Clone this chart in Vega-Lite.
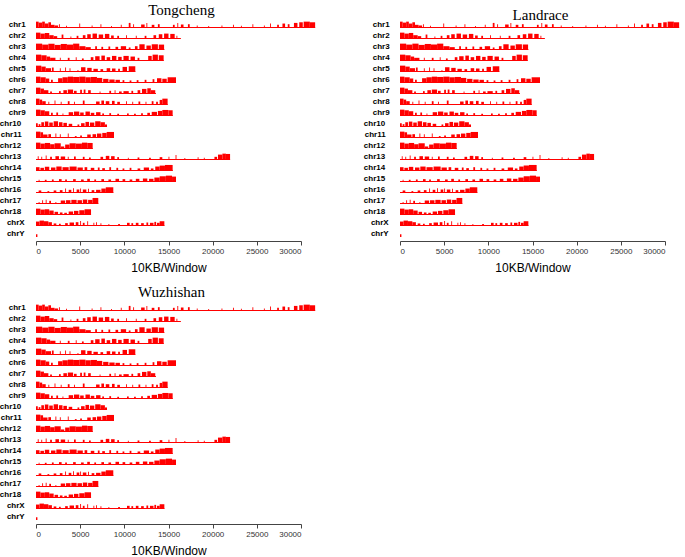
{
"$schema": "https://vega.github.io/schema/vega-lite/v6.json",
"background": "white",
"padding": {"left": -1, "top": 2, "right": 2, "bottom": 2},
"config": {"view": {"stroke": null}, "font": "Liberation Sans"},
"datasets": {"d": [
{"c":"chr1","s":0,"e":31600,"h":0.15},
{"c":"chr1","s":0,"e":300,"h":1},{"c":"chr1","s":300,"e":700,"h":0.85},{"c":"chr1","s":700,"e":1000,"h":1},{"c":"chr1","s":1000,"e":1400,"h":0.7},{"c":"chr1","s":1400,"e":1700,"h":0.9},{"c":"chr1","s":1700,"e":2100,"h":0.5},{"c":"chr1","s":2100,"e":2500,"h":0.4},{"c":"chr1","s":2600,"e":2700,"h":0.6},{"c":"chr1","s":3400,"e":3500,"h":0.35},{"c":"chr1","s":4900,"e":5000,"h":0.7},{"c":"chr1","s":6300,"e":6400,"h":0.4},{"c":"chr1","s":7300,"e":7400,"h":0.6},{"c":"chr1","s":8500,"e":8600,"h":0.3},{"c":"chr1","s":9600,"e":9700,"h":0.5},{"c":"chr1","s":10500,"e":10700,"h":0.8},{"c":"chr1","s":11000,"e":11100,"h":0.6},{"c":"chr1","s":11900,"e":12300,"h":0.55},{"c":"chr1","s":12500,"e":12600,"h":0.8},{"c":"chr1","s":13100,"e":13400,"h":0.5},{"c":"chr1","s":13800,"e":14000,"h":0.6},{"c":"chr1","s":15500,"e":15700,"h":0.5},{"c":"chr1","s":16000,"e":16100,"h":0.8},{"c":"chr1","s":16400,"e":16700,"h":0.55},{"c":"chr1","s":17200,"e":17400,"h":0.6},{"c":"chr1","s":18200,"e":18300,"h":0.4},{"c":"chr1","s":19500,"e":19600,"h":0.3},{"c":"chr1","s":21000,"e":21100,"h":0.4},{"c":"chr1","s":22300,"e":22400,"h":0.5},{"c":"chr1","s":23200,"e":23300,"h":0.35},{"c":"chr1","s":24500,"e":24600,"h":0.6},{"c":"chr1","s":25800,"e":25900,"h":0.4},{"c":"chr1","s":26500,"e":26600,"h":0.7},{"c":"chr1","s":27300,"e":27500,"h":0.5},{"c":"chr1","s":27900,"e":28200,"h":0.7},{"c":"chr1","s":28500,"e":28700,"h":0.6},{"c":"chr1","s":29200,"e":29600,"h":0.8},{"c":"chr1","s":29800,"e":30200,"h":0.9},{"c":"chr1","s":30300,"e":31000,"h":1},{"c":"chr1","s":31000,"e":31600,"h":0.9},
{"c":"chr2","s":0,"e":16400,"h":0.15},
{"c":"chr2","s":0,"e":500,"h":1},{"c":"chr2","s":500,"e":1000,"h":0.85},{"c":"chr2","s":1000,"e":1500,"h":0.95},{"c":"chr2","s":1500,"e":2000,"h":0.6},{"c":"chr2","s":2000,"e":2400,"h":0.45},{"c":"chr2","s":2900,"e":3100,"h":0.7},{"c":"chr2","s":3900,"e":4000,"h":0.4},{"c":"chr2","s":4600,"e":4800,"h":0.5},{"c":"chr2","s":5300,"e":5600,"h":0.6},{"c":"chr2","s":5800,"e":6200,"h":0.75},{"c":"chr2","s":6400,"e":6900,"h":0.85},{"c":"chr2","s":7100,"e":7600,"h":0.7},{"c":"chr2","s":7800,"e":8300,"h":0.8},{"c":"chr2","s":8500,"e":8800,"h":0.55},{"c":"chr2","s":9200,"e":9400,"h":0.5},{"c":"chr2","s":10200,"e":10300,"h":0.6},{"c":"chr2","s":11300,"e":11400,"h":0.5},{"c":"chr2","s":12300,"e":12500,"h":0.5},{"c":"chr2","s":13300,"e":13600,"h":0.6},{"c":"chr2","s":13900,"e":14300,"h":0.75},{"c":"chr2","s":14500,"e":15000,"h":0.85},{"c":"chr2","s":15200,"e":15700,"h":0.8},{"c":"chr2","s":15900,"e":16000,"h":0.5},
{"c":"chr3","s":0,"e":14530,"h":0.15},
{"c":"chr3","s":0,"e":700,"h":1},{"c":"chr3","s":700,"e":1400,"h":0.85},{"c":"chr3","s":1400,"e":2100,"h":1},{"c":"chr3","s":2100,"e":2800,"h":0.8},{"c":"chr3","s":2800,"e":3500,"h":0.95},{"c":"chr3","s":3500,"e":4200,"h":0.85},{"c":"chr3","s":4200,"e":4900,"h":1},{"c":"chr3","s":4900,"e":5600,"h":0.6},{"c":"chr3","s":5600,"e":6200,"h":0.45},{"c":"chr3","s":6700,"e":6900,"h":0.6},{"c":"chr3","s":7400,"e":7600,"h":0.5},{"c":"chr3","s":8200,"e":8400,"h":0.55},{"c":"chr3","s":9000,"e":9300,"h":0.5},{"c":"chr3","s":9600,"e":10200,"h":0.6},{"c":"chr3","s":10500,"e":10700,"h":0.4},{"c":"chr3","s":11200,"e":11500,"h":0.6},{"c":"chr3","s":11700,"e":12300,"h":0.9},{"c":"chr3","s":12500,"e":13000,"h":0.7},{"c":"chr3","s":13100,"e":13800,"h":0.9},{"c":"chr3","s":13900,"e":14500,"h":0.85},
{"c":"chr4","s":0,"e":14450,"h":0.15},
{"c":"chr4","s":0,"e":600,"h":1},{"c":"chr4","s":600,"e":1200,"h":0.9},{"c":"chr4","s":1200,"e":1600,"h":0.7},{"c":"chr4","s":1600,"e":2200,"h":0.5},{"c":"chr4","s":2700,"e":2800,"h":0.5},{"c":"chr4","s":3600,"e":3800,"h":0.5},{"c":"chr4","s":4500,"e":4600,"h":0.6},{"c":"chr4","s":5200,"e":5400,"h":0.4},{"c":"chr4","s":6200,"e":6500,"h":0.6},{"c":"chr4","s":6700,"e":7200,"h":0.75},{"c":"chr4","s":7400,"e":7800,"h":0.85},{"c":"chr4","s":8000,"e":8400,"h":0.6},{"c":"chr4","s":8600,"e":9100,"h":0.8},{"c":"chr4","s":9300,"e":9700,"h":0.65},{"c":"chr4","s":9900,"e":10500,"h":0.8},{"c":"chr4","s":10700,"e":11200,"h":0.7},{"c":"chr4","s":11500,"e":11700,"h":0.5},{"c":"chr4","s":12700,"e":13100,"h":0.8},{"c":"chr4","s":13200,"e":13800,"h":1},{"c":"chr4","s":13900,"e":14450,"h":0.9},
{"c":"chr5","s":0,"e":11240,"h":0.15},
{"c":"chr5","s":0,"e":600,"h":1},{"c":"chr5","s":600,"e":1100,"h":0.85},{"c":"chr5","s":1100,"e":1700,"h":0.6},{"c":"chr5","s":1800,"e":2000,"h":0.7},{"c":"chr5","s":2700,"e":2800,"h":0.6},{"c":"chr5","s":3300,"e":3400,"h":0.7},{"c":"chr5","s":3800,"e":3900,"h":0.6},{"c":"chr5","s":4700,"e":4800,"h":0.3},{"c":"chr5","s":5100,"e":5600,"h":0.75},{"c":"chr5","s":5800,"e":6300,"h":0.65},{"c":"chr5","s":6500,"e":7000,"h":0.5},{"c":"chr5","s":7300,"e":7600,"h":0.45},{"c":"chr5","s":8000,"e":8400,"h":0.6},{"c":"chr5","s":8600,"e":9000,"h":0.55},{"c":"chr5","s":9300,"e":9500,"h":0.5},{"c":"chr5","s":9800,"e":10300,"h":0.8},{"c":"chr5","s":10500,"e":11240,"h":0.9},
{"c":"chr6","s":0,"e":15850,"h":0.15},
{"c":"chr6","s":0,"e":500,"h":1},{"c":"chr6","s":500,"e":1100,"h":0.9},{"c":"chr6","s":1100,"e":1500,"h":0.7},{"c":"chr6","s":1700,"e":1900,"h":0.5},{"c":"chr6","s":2500,"e":3000,"h":0.75},{"c":"chr6","s":3000,"e":3600,"h":0.9},{"c":"chr6","s":3600,"e":4200,"h":1},{"c":"chr6","s":4200,"e":4900,"h":0.95},{"c":"chr6","s":4900,"e":5600,"h":1},{"c":"chr6","s":5600,"e":6200,"h":0.9},{"c":"chr6","s":6200,"e":6900,"h":0.95},{"c":"chr6","s":6900,"e":7500,"h":0.8},{"c":"chr6","s":7600,"e":8200,"h":0.65},{"c":"chr6","s":8300,"e":8900,"h":0.55},{"c":"chr6","s":9000,"e":9500,"h":0.5},{"c":"chr6","s":9800,"e":10000,"h":0.45},{"c":"chr6","s":10600,"e":10800,"h":0.4},{"c":"chr6","s":11400,"e":11600,"h":0.45},{"c":"chr6","s":12300,"e":12500,"h":0.5},{"c":"chr6","s":13200,"e":13400,"h":0.6},{"c":"chr6","s":13700,"e":14200,"h":0.75},{"c":"chr6","s":14300,"e":14800,"h":0.65},{"c":"chr6","s":14900,"e":15850,"h":0.9},
{"c":"chr7","s":0,"e":13580,"h":0.15},
{"c":"chr7","s":0,"e":500,"h":1},{"c":"chr7","s":500,"e":900,"h":0.85},{"c":"chr7","s":900,"e":1400,"h":0.6},{"c":"chr7","s":1600,"e":1800,"h":0.4},{"c":"chr7","s":2600,"e":2800,"h":0.45},{"c":"chr7","s":3100,"e":3500,"h":0.6},{"c":"chr7","s":3600,"e":4200,"h":0.7},{"c":"chr7","s":4300,"e":4600,"h":0.5},{"c":"chr7","s":5000,"e":5200,"h":0.65},{"c":"chr7","s":5400,"e":5600,"h":0.7},{"c":"chr7","s":5900,"e":6200,"h":0.6},{"c":"chr7","s":7200,"e":7300,"h":0.4},{"c":"chr7","s":8300,"e":8500,"h":0.5},{"c":"chr7","s":8900,"e":9000,"h":0.6},{"c":"chr7","s":9400,"e":9700,"h":0.4},{"c":"chr7","s":9900,"e":10500,"h":0.45},{"c":"chr7","s":10800,"e":11000,"h":0.5},{"c":"chr7","s":11500,"e":11800,"h":0.6},{"c":"chr7","s":12000,"e":12500,"h":0.8},{"c":"chr7","s":12600,"e":13000,"h":0.9},{"c":"chr7","s":13000,"e":13500,"h":0.6},
{"c":"chr8","s":0,"e":14900,"h":0.15},
{"c":"chr8","s":0,"e":400,"h":1},{"c":"chr8","s":400,"e":700,"h":0.85},{"c":"chr8","s":700,"e":1100,"h":0.6},{"c":"chr8","s":1400,"e":1500,"h":0.5},{"c":"chr8","s":2100,"e":2200,"h":0.7},{"c":"chr8","s":2800,"e":2900,"h":0.5},{"c":"chr8","s":3600,"e":3800,"h":0.6},{"c":"chr8","s":4300,"e":4400,"h":0.5},{"c":"chr8","s":5300,"e":5500,"h":0.7},{"c":"chr8","s":6800,"e":7200,"h":0.55},{"c":"chr8","s":7400,"e":7700,"h":0.7},{"c":"chr8","s":7900,"e":8300,"h":0.6},{"c":"chr8","s":8600,"e":8900,"h":0.65},{"c":"chr8","s":9200,"e":9500,"h":0.5},{"c":"chr8","s":10200,"e":10300,"h":0.6},{"c":"chr8","s":10900,"e":11000,"h":0.5},{"c":"chr8","s":11600,"e":11800,"h":0.55},{"c":"chr8","s":12400,"e":12500,"h":0.5},{"c":"chr8","s":13100,"e":13300,"h":0.6},{"c":"chr8","s":13600,"e":13800,"h":0.5},{"c":"chr8","s":14000,"e":14300,"h":0.8},{"c":"chr8","s":14300,"e":14900,"h":1},
{"c":"chr9","s":0,"e":15470,"h":0.15},
{"c":"chr9","s":0,"e":500,"h":1},{"c":"chr9","s":500,"e":1000,"h":0.9},{"c":"chr9","s":1000,"e":1500,"h":0.75},{"c":"chr9","s":1700,"e":1900,"h":0.5},{"c":"chr9","s":2300,"e":2500,"h":0.55},{"c":"chr9","s":3000,"e":3100,"h":0.4},{"c":"chr9","s":3700,"e":4200,"h":0.6},{"c":"chr9","s":4300,"e":4900,"h":0.7},{"c":"chr9","s":5000,"e":5400,"h":0.55},{"c":"chr9","s":5600,"e":6100,"h":0.7},{"c":"chr9","s":6200,"e":6600,"h":0.5},{"c":"chr9","s":6800,"e":7300,"h":0.6},{"c":"chr9","s":7500,"e":7700,"h":0.4},{"c":"chr9","s":8300,"e":8500,"h":0.45},{"c":"chr9","s":9200,"e":9400,"h":0.35},{"c":"chr9","s":10300,"e":10500,"h":0.4},{"c":"chr9","s":11100,"e":11300,"h":0.35},{"c":"chr9","s":11900,"e":12100,"h":0.45},{"c":"chr9","s":12600,"e":12900,"h":0.5},{"c":"chr9","s":13100,"e":13700,"h":0.65},{"c":"chr9","s":13800,"e":14300,"h":0.8},{"c":"chr9","s":14300,"e":15000,"h":0.95},{"c":"chr9","s":15000,"e":15470,"h":0.9},
{"c":"chr10","s":0,"e":8040,"h":0.15},
{"c":"chr10","s":0,"e":200,"h":0.6},{"c":"chr10","s":300,"e":500,"h":0.45},{"c":"chr10","s":600,"e":900,"h":0.75},{"c":"chr10","s":1000,"e":1400,"h":0.85},{"c":"chr10","s":1500,"e":1900,"h":0.7},{"c":"chr10","s":2000,"e":2500,"h":0.9},{"c":"chr10","s":2600,"e":3000,"h":0.75},{"c":"chr10","s":3100,"e":3500,"h":0.65},{"c":"chr10","s":3700,"e":4100,"h":0.5},{"c":"chr10","s":4700,"e":4900,"h":0.4},{"c":"chr10","s":5100,"e":5500,"h":0.6},{"c":"chr10","s":5600,"e":6000,"h":0.8},{"c":"chr10","s":6100,"e":6600,"h":0.7},{"c":"chr10","s":6700,"e":7300,"h":0.9},{"c":"chr10","s":7300,"e":7800,"h":0.75},{"c":"chr10","s":7800,"e":8040,"h":0.4},
{"c":"chr11","s":0,"e":8830,"h":0.15},
{"c":"chr11","s":0,"e":500,"h":1},{"c":"chr11","s":500,"e":800,"h":0.9},{"c":"chr11","s":800,"e":1300,"h":0.55},{"c":"chr11","s":1400,"e":1700,"h":0.6},{"c":"chr11","s":2200,"e":2300,"h":0.7},{"c":"chr11","s":2700,"e":2800,"h":0.6},{"c":"chr11","s":3600,"e":3700,"h":0.7},{"c":"chr11","s":4400,"e":4600,"h":0.3},{"c":"chr11","s":5000,"e":5200,"h":0.4},{"c":"chr11","s":5800,"e":6200,"h":0.55},{"c":"chr11","s":6400,"e":6800,"h":0.6},{"c":"chr11","s":6900,"e":7400,"h":0.7},{"c":"chr11","s":7500,"e":8000,"h":0.8},{"c":"chr11","s":8000,"e":8830,"h":0.95},
{"c":"chr12","s":0,"e":6415,"h":0.15},
{"c":"chr12","s":0,"e":500,"h":1},{"c":"chr12","s":500,"e":1000,"h":0.85},{"c":"chr12","s":1000,"e":1600,"h":0.95},{"c":"chr12","s":1600,"e":2100,"h":0.75},{"c":"chr12","s":2100,"e":2800,"h":0.9},{"c":"chr12","s":2800,"e":3200,"h":0.4},{"c":"chr12","s":3300,"e":3800,"h":0.7},{"c":"chr12","s":3800,"e":4500,"h":0.9},{"c":"chr12","s":4500,"e":5200,"h":0.85},{"c":"chr12","s":5200,"e":5800,"h":1},{"c":"chr12","s":5800,"e":6415,"h":0.95},
{"c":"chr13","s":0,"e":21970,"h":0.15},
{"c":"chr13","s":200,"e":300,"h":0.6},{"c":"chr13","s":600,"e":700,"h":0.5},{"c":"chr13","s":1100,"e":1200,"h":0.7},{"c":"chr13","s":1600,"e":1800,"h":0.5},{"c":"chr13","s":2200,"e":2600,"h":0.6},{"c":"chr13","s":2800,"e":3300,"h":0.55},{"c":"chr13","s":3600,"e":3700,"h":0.5},{"c":"chr13","s":4300,"e":4500,"h":0.55},{"c":"chr13","s":5300,"e":5500,"h":0.5},{"c":"chr13","s":6000,"e":6200,"h":0.4},{"c":"chr13","s":7300,"e":7600,"h":0.5},{"c":"chr13","s":7900,"e":8300,"h":0.65},{"c":"chr13","s":8500,"e":8900,"h":0.6},{"c":"chr13","s":9200,"e":9400,"h":0.45},{"c":"chr13","s":10400,"e":10500,"h":0.35},{"c":"chr13","s":11500,"e":11700,"h":0.4},{"c":"chr13","s":12800,"e":13000,"h":0.35},{"c":"chr13","s":14000,"e":14300,"h":0.45},{"c":"chr13","s":15000,"e":15100,"h":0.5},{"c":"chr13","s":15800,"e":15900,"h":0.8},{"c":"chr13","s":16800,"e":16900,"h":0.3},{"c":"chr13","s":18300,"e":18400,"h":0.45},{"c":"chr13","s":19000,"e":19100,"h":0.35},{"c":"chr13","s":20200,"e":20500,"h":0.5},{"c":"chr13","s":20600,"e":21100,"h":0.85},{"c":"chr13","s":21100,"e":21500,"h":1},{"c":"chr13","s":21500,"e":21970,"h":0.95},
{"c":"chr14","s":0,"e":15470,"h":0.15},
{"c":"chr14","s":0,"e":400,"h":0.6},{"c":"chr14","s":500,"e":900,"h":0.5},{"c":"chr14","s":1000,"e":1500,"h":0.65},{"c":"chr14","s":1700,"e":2200,"h":0.55},{"c":"chr14","s":2300,"e":2900,"h":0.7},{"c":"chr14","s":3000,"e":3700,"h":0.6},{"c":"chr14","s":3800,"e":4600,"h":0.7},{"c":"chr14","s":4700,"e":5300,"h":0.55},{"c":"chr14","s":5500,"e":5800,"h":0.6},{"c":"chr14","s":6200,"e":6600,"h":0.5},{"c":"chr14","s":7000,"e":7200,"h":0.55},{"c":"chr14","s":7500,"e":7800,"h":0.45},{"c":"chr14","s":8300,"e":8500,"h":0.6},{"c":"chr14","s":9100,"e":9300,"h":0.5},{"c":"chr14","s":9800,"e":10000,"h":0.4},{"c":"chr14","s":10600,"e":10800,"h":0.5},{"c":"chr14","s":11500,"e":11800,"h":0.4},{"c":"chr14","s":12200,"e":12800,"h":0.55},{"c":"chr14","s":13000,"e":13300,"h":0.4},{"c":"chr14","s":13500,"e":14000,"h":0.7},{"c":"chr14","s":14000,"e":14600,"h":0.85},{"c":"chr14","s":14600,"e":15470,"h":0.95},
{"c":"chr15","s":0,"e":15850,"h":0.15},
{"c":"chr15","s":300,"e":400,"h":0.35},{"c":"chr15","s":1000,"e":1200,"h":0.35},{"c":"chr15","s":1800,"e":2000,"h":0.4},{"c":"chr15","s":2600,"e":2900,"h":0.45},{"c":"chr15","s":3300,"e":3500,"h":0.4},{"c":"chr15","s":4200,"e":4500,"h":0.45},{"c":"chr15","s":5100,"e":5400,"h":0.4},{"c":"chr15","s":5800,"e":6100,"h":0.5},{"c":"chr15","s":6600,"e":6800,"h":0.4},{"c":"chr15","s":7400,"e":7700,"h":0.45},{"c":"chr15","s":8200,"e":8500,"h":0.4},{"c":"chr15","s":9000,"e":9400,"h":0.5},{"c":"chr15","s":9800,"e":10100,"h":0.45},{"c":"chr15","s":10600,"e":10900,"h":0.4},{"c":"chr15","s":11300,"e":11700,"h":0.5},{"c":"chr15","s":12100,"e":12600,"h":0.55},{"c":"chr15","s":12800,"e":13300,"h":0.5},{"c":"chr15","s":13400,"e":14000,"h":0.7},{"c":"chr15","s":14000,"e":14700,"h":0.9},{"c":"chr15","s":14700,"e":15400,"h":1},{"c":"chr15","s":15400,"e":15850,"h":0.85},
{"c":"chr16","s":0,"e":8750,"h":0.15},
{"c":"chr16","s":300,"e":600,"h":0.4},{"c":"chr16","s":1300,"e":1500,"h":0.3},{"c":"chr16","s":2000,"e":2300,"h":0.4},{"c":"chr16","s":2700,"e":3000,"h":0.45},{"c":"chr16","s":3300,"e":3400,"h":0.7},{"c":"chr16","s":3700,"e":4000,"h":0.5},{"c":"chr16","s":4200,"e":4300,"h":0.75},{"c":"chr16","s":4600,"e":4900,"h":0.55},{"c":"chr16","s":5000,"e":5100,"h":0.7},{"c":"chr16","s":5300,"e":5700,"h":0.55},{"c":"chr16","s":5900,"e":6000,"h":0.65},{"c":"chr16","s":6300,"e":6600,"h":0.45},{"c":"chr16","s":6800,"e":7300,"h":0.5},{"c":"chr16","s":7400,"e":7900,"h":0.7},{"c":"chr16","s":7900,"e":8750,"h":0.9},
{"c":"chr17","s":0,"e":7050,"h":0.15},
{"c":"chr17","s":300,"e":400,"h":0.3},{"c":"chr17","s":700,"e":800,"h":0.6},{"c":"chr17","s":1100,"e":1200,"h":0.65},{"c":"chr17","s":1500,"e":1700,"h":0.5},{"c":"chr17","s":2200,"e":2300,"h":0.3},{"c":"chr17","s":2800,"e":3300,"h":0.55},{"c":"chr17","s":3400,"e":3900,"h":0.6},{"c":"chr17","s":4000,"e":4600,"h":0.65},{"c":"chr17","s":4700,"e":5200,"h":0.6},{"c":"chr17","s":5300,"e":5800,"h":0.7},{"c":"chr17","s":5900,"e":6400,"h":0.65},{"c":"chr17","s":6400,"e":7050,"h":0.95},
{"c":"chr18","s":0,"e":6230,"h":0.15},
{"c":"chr18","s":0,"e":500,"h":1},{"c":"chr18","s":500,"e":1000,"h":0.85},{"c":"chr18","s":1000,"e":1500,"h":0.9},{"c":"chr18","s":1500,"e":2000,"h":0.7},{"c":"chr18","s":2100,"e":2500,"h":0.5},{"c":"chr18","s":2700,"e":3000,"h":0.4},{"c":"chr18","s":3200,"e":3500,"h":0.35},{"c":"chr18","s":3700,"e":4200,"h":0.55},{"c":"chr18","s":4300,"e":4800,"h":0.65},{"c":"chr18","s":4900,"e":5500,"h":0.75},{"c":"chr18","s":5500,"e":6230,"h":0.9},
{"c":"chrX","s":0,"e":14530,"h":0.15},
{"c":"chrX","s":0,"e":400,"h":0.7},{"c":"chrX","s":400,"e":900,"h":0.85},{"c":"chrX","s":900,"e":1400,"h":0.75},{"c":"chrX","s":1400,"e":1800,"h":0.6},{"c":"chrX","s":2000,"e":2300,"h":0.4},{"c":"chrX","s":2600,"e":2800,"h":0.35},{"c":"chrX","s":3300,"e":3600,"h":0.45},{"c":"chrX","s":3800,"e":4300,"h":0.55},{"c":"chrX","s":4500,"e":4800,"h":0.6},{"c":"chrX","s":5000,"e":5100,"h":0.8},{"c":"chrX","s":5300,"e":5500,"h":0.5},{"c":"chrX","s":5800,"e":5900,"h":0.75},{"c":"chrX","s":6500,"e":6600,"h":0.5},{"c":"chrX","s":6800,"e":6900,"h":0.6},{"c":"chrX","s":7300,"e":7400,"h":0.45},{"c":"chrX","s":8200,"e":8300,"h":0.3},{"c":"chrX","s":9300,"e":9500,"h":0.3},{"c":"chrX","s":10300,"e":10600,"h":0.5},{"c":"chrX","s":10800,"e":11000,"h":0.45},{"c":"chrX","s":11300,"e":11600,"h":0.5},{"c":"chrX","s":11900,"e":12200,"h":0.45},{"c":"chrX","s":12500,"e":12700,"h":0.55},{"c":"chrX","s":12900,"e":13300,"h":0.5},{"c":"chrX","s":13400,"e":13600,"h":0.65},{"c":"chrX","s":13700,"e":14000,"h":0.5},{"c":"chrX","s":14000,"e":14530,"h":0.75},
{"c":"chrY","s":0,"e":160,"h":0.45}
]},
"vconcat": [
 {"hconcat": [
  {"title": {"text": "Tongcheng", "font": "Liberation Serif", "fontSize": 15, "fontWeight": "normal", "anchor": "middle", "dx": 24, "dy": 2, "offset": 5},
   "data": {"name": "d"},
   "facet": {"row": {"field": "c", "type": "nominal", "sort": ["chr1","chr2","chr3","chr4","chr5","chr6","chr7","chr8","chr9","chr10","chr11","chr12","chr13","chr14","chr15","chr16","chr17","chr18","chrX","chrY"],
     "header": {"title": null, "labelAngle": 0, "labelAlign": "right", "labelOrient": "left", "labelFontWeight": "bold", "labelFontSize": 8, "labelPadding": -6.5, "labelFont": "Liberation Sans", "labelColor": "#000"}}},
   "spacing": {"row": 4},
   "spec": {"width": 265, "height": 7,
     "mark": {"type": "rect", "color": "#ff0000"},
     "encoding": {
       "x": {"field": "s", "type": "quantitative", "scale": {"domain": [0, 30000], "nice": false},
         "axis": {"values": [0,5000,10000,15000,20000,25000,30000], "format": "d", "grid": false, "labelFontSize": 8, "labelColor": "#333", "domainColor": "#444", "tickColor": "#444", "tickSize": 4, "offset": 4, "title": "10KB/Window", "titleFontSize": 12, "titleFontWeight": "normal", "titleColor": "#000", "titlePadding": 7}},
       "x2": {"field": "e"},
       "y": {"field": "h", "type": "quantitative", "scale": {"domain": [0, 1.1]}, "axis": null},
       "y2": {"datum": 0}
     }}},
  {"title": {"text": "Landrace", "font": "Liberation Serif", "fontSize": 15, "fontWeight": "normal", "anchor": "middle", "dx": 19, "offset": 5, "dy": 7},
   "data": {"name": "d"},
   "facet": {"row": {"field": "c", "type": "nominal", "sort": ["chr1","chr2","chr3","chr4","chr5","chr6","chr7","chr8","chr9","chr10","chr11","chr12","chr13","chr14","chr15","chr16","chr17","chr18","chrX","chrY"],
     "header": {"title": null, "labelAngle": 0, "labelAlign": "right", "labelOrient": "left", "labelFontWeight": "bold", "labelFontSize": 8, "labelPadding": -6.5, "labelFont": "Liberation Sans", "labelColor": "#000"}}},
   "spacing": {"row": 4},
   "spec": {"width": 265, "height": 7,
     "mark": {"type": "rect", "color": "#ff0000"},
     "encoding": {
       "x": {"field": "s", "type": "quantitative", "scale": {"domain": [0, 30000], "nice": false},
         "axis": {"values": [0,5000,10000,15000,20000,25000,30000], "format": "d", "grid": false, "labelFontSize": 8, "labelColor": "#333", "domainColor": "#444", "tickColor": "#444", "tickSize": 4, "offset": 4, "title": "10KB/Window", "titleFontSize": 12, "titleFontWeight": "normal", "titleColor": "#000", "titlePadding": 7}},
       "x2": {"field": "e"},
       "y": {"field": "h", "type": "quantitative", "scale": {"domain": [0, 1.1]}, "axis": null},
       "y2": {"datum": 0}
     }}}
 ], "spacing": 47},
 {"title": {"text": "Wuzhishan", "font": "Liberation Serif", "fontSize": 15, "fontWeight": "normal", "anchor": "middle", "dx": 14, "offset": 4},
   "data": {"name": "d"},
   "facet": {"row": {"field": "c", "type": "nominal", "sort": ["chr1","chr2","chr3","chr4","chr5","chr6","chr7","chr8","chr9","chr10","chr11","chr12","chr13","chr14","chr15","chr16","chr17","chr18","chrX","chrY"],
     "header": {"title": null, "labelAngle": 0, "labelAlign": "right", "labelOrient": "left", "labelFontWeight": "bold", "labelFontSize": 8, "labelPadding": -6.5, "labelFont": "Liberation Sans", "labelColor": "#000"}}},
   "spacing": {"row": 4},
   "spec": {"width": 265, "height": 7,
     "mark": {"type": "rect", "color": "#ff0000"},
     "encoding": {
       "x": {"field": "s", "type": "quantitative", "scale": {"domain": [0, 30000], "nice": false},
         "axis": {"values": [0,5000,10000,15000,20000,25000,30000], "format": "d", "grid": false, "labelFontSize": 8, "labelColor": "#333", "domainColor": "#444", "tickColor": "#444", "tickSize": 4, "offset": 4, "title": "10KB/Window", "titleFontSize": 12, "titleFontWeight": "normal", "titleColor": "#000", "titlePadding": 7}},
       "x2": {"field": "e"},
       "y": {"field": "h", "type": "quantitative", "scale": {"domain": [0, 1.1]}, "axis": null},
       "y2": {"datum": 0}
     }}}
],
"spacing": 11
}
